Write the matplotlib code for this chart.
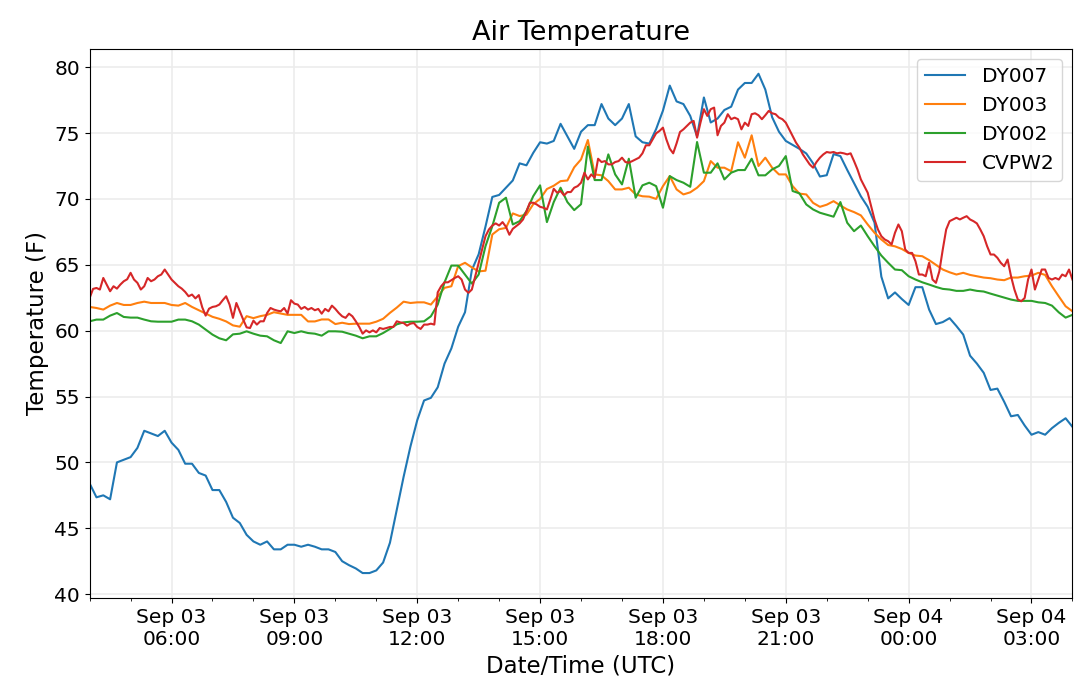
import matplotlib
matplotlib.use('Agg')
import matplotlib.pyplot as plt
import matplotlib.dates as mdates
import pandas as pd

# start of the record (UTC); the three DY stations report every 10 min, CVPW2 every 5 min
start = '2019-09-03 04:00'

dy007 = [48.4, 47.35, 47.5, 47.2, 50.0, 50.2, 50.4, 51.1, 52.4, 52.2, 52.0, 52.4, 51.5,
         50.95, 49.9, 49.9, 49.2, 49.0, 47.9, 47.9, 47.0, 45.8, 45.4, 44.5, 44.0,
         43.75, 44.0, 43.4, 43.4, 43.75, 43.75, 43.6, 43.75, 43.6, 43.4, 43.4, 43.2, 42.5, 42.2,
         41.95, 41.6, 41.6, 41.8, 42.4, 43.9, 46.4, 48.9, 51.2, 53.2, 54.7, 54.9, 55.7, 57.5,
         58.65, 60.3, 61.4, 64.6, 65.8, 67.9, 70.15,
         70.3, 70.85, 71.4, 72.7, 72.55, 73.5, 74.3, 74.2, 74.4, 75.7, 74.75, 73.8, 75.1,
         75.6, 75.6, 77.2, 76.1, 75.6, 76.1, 77.2, 74.75, 74.3, 74.2, 75.3, 76.7,
         78.6, 77.4, 77.2, 76.3, 74.75, 77.7, 75.8, 76.1, 76.75, 77.0, 78.3, 78.8, 78.8,
         79.5, 78.3, 76.2, 75.1, 74.4, 74.1, 73.8, 73.45, 72.7, 71.7, 71.8,
         73.4, 73.25, 72.2, 71.2, 70.2, 69.4, 68.2, 64.1, 62.45, 62.9, 62.4, 61.95, 63.3,
         63.3, 61.6, 60.5, 60.65, 60.95, 60.35, 59.7, 58.1, 57.5, 56.8, 55.5, 55.6, 54.6,
         53.5, 53.6, 52.8, 52.1, 52.3, 52.1, 52.6, 53.0, 53.35, 52.7]

dy003 = [61.8, 61.72, 61.6, 61.9, 62.1, 61.95, 61.95, 62.1, 62.2, 62.1, 62.1, 62.1, 61.95,
         61.9, 62.1, 61.8, 61.55, 61.3, 61.05, 60.9, 60.7, 60.4, 60.3, 61.1, 60.95, 61.1,
         61.2, 61.4, 61.3, 61.2, 61.2, 61.2, 60.7, 60.7, 60.85, 60.85, 60.5, 60.6, 60.5,
         60.53, 60.53, 60.53, 60.68, 60.9, 61.35, 61.75, 62.2, 62.1, 62.15, 62.15, 61.98,
         62.6, 63.25, 63.37, 64.9, 65.15, 64.8, 64.5, 64.55, 67.3, 67.7, 67.8, 68.9, 68.7,
         68.8, 69.6, 70.0, 70.75, 71.0, 71.35, 71.4, 72.4, 73.0,
         74.47, 71.86, 71.79, 71.35, 70.72, 70.72, 70.85, 70.34, 70.2, 70.17, 70.0, 70.97,
         71.73, 70.72, 70.34, 70.5, 70.85, 71.35, 72.87, 72.37, 72.37, 72.1, 74.3, 73.13,
         74.83, 72.5, 73.13, 72.37, 71.86, 71.86, 70.97, 70.4, 70.34, 69.7,
         69.4, 69.56, 69.83, 69.5, 69.2, 69.0, 68.75, 68.06, 67.43, 66.92, 66.5, 66.4, 66.2,
         65.9, 65.7, 65.65, 65.35, 65.0, 64.64, 64.43, 64.26, 64.39, 64.23, 64.13, 64.03,
         63.98, 63.88, 63.83, 64.03, 64.03, 64.13, 64.18, 64.39, 64.23, 63.37, 62.6, 61.85,
         61.47]

dy002 = [60.71, 60.84, 60.84, 61.14, 61.34, 61.04, 60.99, 60.99, 60.84, 60.71, 60.68, 60.68,
         60.68, 60.84, 60.84, 60.71, 60.46, 60.08, 59.7, 59.42, 59.27, 59.72, 59.77, 59.95,
         59.77, 59.62, 59.57, 59.27, 59.06, 59.95, 59.82, 59.95, 59.82, 59.77, 59.62, 59.95,
         59.95, 59.92, 59.77,
         59.62, 59.42, 59.57, 59.57, 59.82, 60.13, 60.48, 60.63, 60.68, 60.68, 60.71, 61.09,
         61.98, 63.67, 64.94, 64.94, 64.26, 63.57, 64.26, 66.41, 67.93, 69.71, 70.09, 68.06,
         68.31, 69.07, 70.21, 71.03, 68.24, 69.76, 70.85, 69.76, 69.15, 69.6,
         73.97, 71.43, 71.43, 73.38, 71.86, 71.1, 73.05, 70.09, 71.03, 71.23, 70.97, 69.33,
         71.73, 71.43, 71.23, 70.92, 74.32, 71.99, 71.99, 72.7, 71.48, 71.99, 72.19, 72.19,
         73.05, 71.79, 71.79, 72.24, 72.5, 73.25, 70.6, 70.42, 69.58, 69.2,
         68.95, 68.8, 68.65, 69.76, 68.19, 67.55, 67.98, 67.17, 66.41, 65.7, 65.15, 64.64,
         64.59, 64.13, 63.88, 63.67, 63.5, 63.32, 63.17, 63.12, 63.02, 63.02, 63.12, 63.02,
         62.97, 62.81, 62.66, 62.51, 62.36, 62.26, 62.26, 62.26, 62.15, 62.1, 61.9, 61.39,
         60.99, 61.2]

cvpw2 = [62.48, 63.17, 63.24, 63.12, 64.0, 63.5, 62.99, 63.37, 63.19, 63.5, 63.75, 63.9,
         64.39, 63.88, 63.63, 63.12, 63.37, 64.0, 63.75, 63.88, 64.13, 64.26, 64.64, 64.26,
         63.88, 63.63, 63.37, 63.19, 62.94, 62.61, 62.74, 62.45, 62.7, 61.77, 61.14, 61.67,
         61.8, 61.85, 61.98, 62.31, 62.61, 61.98, 60.97, 62.1, 61.47, 60.84, 60.25, 60.2,
         60.76, 60.46, 60.71, 60.71, 61.34, 61.72, 61.6, 61.52, 61.47, 61.72, 61.3,
         62.31, 62.05, 61.98, 61.65, 61.8, 61.6, 61.72, 61.55, 61.65, 61.29,
         61.65, 61.47, 61.9, 61.65, 61.34, 61.09, 60.97, 61.29, 61.09, 60.71,
         60.28, 59.77, 60.02, 59.87, 60.02, 59.87, 60.2, 60.13, 60.2, 60.28,
         60.28, 60.71, 60.63, 60.58, 60.38, 60.53, 60.58, 60.28, 60.13, 60.46,
         60.46, 60.53, 60.46, 62.91, 63.37, 63.67, 63.67, 63.83, 64.0, 64.13,
         63.88, 63.12, 62.87, 63.12, 64.13, 65.15, 66.16, 67.17, 67.68, 67.98,
         68.14, 67.98, 68.24, 67.88, 67.28, 67.73, 67.93, 68.14, 68.44, 69.05,
         69.71, 69.71, 69.58, 69.4, 69.33, 69.2, 69.96, 70.77, 70.47, 70.6,
         70.27, 70.52, 70.52, 70.85, 70.97, 71.23, 71.99, 71.48, 71.86, 71.61,
         73.05, 72.8, 72.87, 72.62, 72.62, 72.8, 72.87, 73.13, 72.8, 72.75,
         72.87, 73.0, 73.13, 73.46, 74.07, 74.07, 74.52, 74.98, 75.16, 75.41,
         74.52, 73.81, 73.46, 74.22, 75.08,
         75.28, 75.54, 75.79, 75.92, 74.65, 75.79, 76.81, 76.3, 76.81, 76.93,
         74.83, 75.54, 75.79, 76.43, 76.05, 76.17, 76.05, 75.28, 75.79, 75.54,
         76.43, 76.5, 76.35, 76.05, 76.35, 76.68, 76.5, 76.43, 76.17, 76.05,
         75.79, 75.28, 74.78, 74.27, 73.89, 73.38, 73.0, 72.62, 72.37, 72.8,
         73.13, 73.38, 73.56, 73.51, 73.56, 73.46, 73.51, 73.46, 73.38, 73.46,
         72.87, 72.24, 71.48, 70.97, 70.47, 69.45, 68.44, 67.68, 67.17, 66.92,
         66.79, 66.54, 67.43, 68.06, 67.55, 66.16, 65.9, 65.9, 65.27, 64.26,
         64.26, 64.13, 65.15, 63.88, 63.63, 64.51, 66.16, 67.68, 68.31, 68.44,
         68.57, 68.44, 68.57, 68.69, 68.44, 68.31, 68.14, 67.68, 67.17, 66.41,
         65.78, 65.78, 65.53, 65.15, 64.89, 65.4, 64.13, 63.12, 62.36, 62.23,
         62.48, 63.88, 64.64, 63.12, 63.88, 64.64, 64.64, 64.0, 63.88, 64.0,
         63.88, 64.26, 64.13, 64.64, 63.88]

t10 = pd.date_range(start, periods=len(dy007), freq='10min')
t5 = pd.date_range(start, periods=len(cvpw2), freq='5min')

fig, ax = plt.subplots(figsize=(10.8, 6.97), dpi=100)
fig.subplots_adjust(left=0.083, right=0.993, top=0.93, bottom=0.142)

ax.plot(t10, dy007, color='tab:blue', lw=1.5, label='DY007')
ax.plot(t10, dy003, color='tab:orange', lw=1.5, label='DY003')
ax.plot(t10, dy002, color='tab:green', lw=1.5, label='DY002')
ax.plot(t5, cvpw2, color='tab:red', lw=1.5, label='CVPW2')

ax.set_xlim(t10[0], t10[-1])
ax.xaxis.set_major_locator(mdates.HourLocator(byhour=range(0, 24, 3)))
ax.xaxis.set_minor_locator(mdates.HourLocator())
ax.xaxis.set_major_formatter(mdates.DateFormatter('%b %d\n%H:%M'))

# faint grid like the original
ax.grid(True, color='#ececec', lw=1.2)
ax.set_axisbelow(True)

ax.set_title('Air Temperature', fontsize=19.5)
ax.set_xlabel('Date/Time (UTC)', fontsize=16.5)
ax.set_ylabel('Temperature (F)', fontsize=16.5)
ax.tick_params(labelsize=14.5)
ax.legend(loc='upper right', fontsize=14.5)

fig.savefig('out.png', dpi=100)
